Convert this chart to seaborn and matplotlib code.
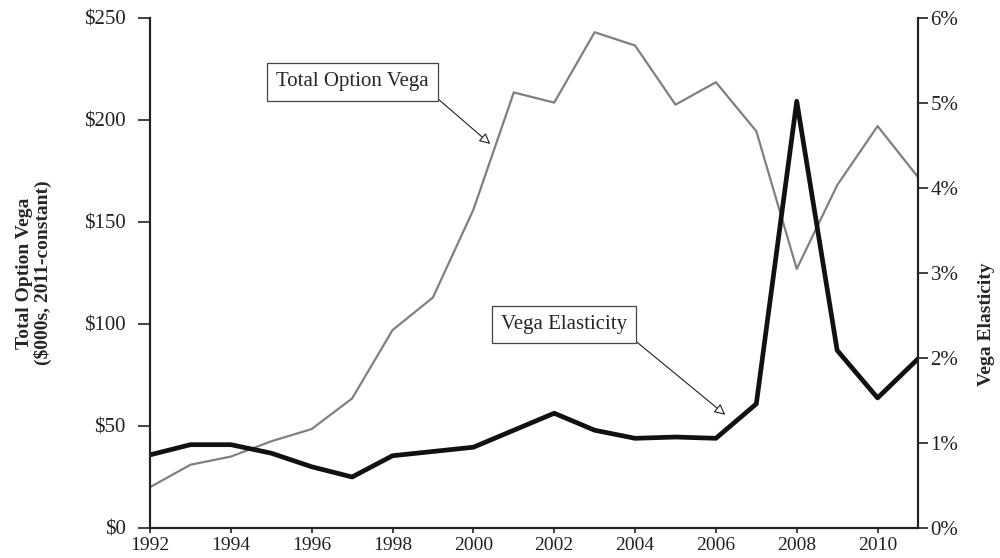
import matplotlib
matplotlib.use("Agg")
import matplotlib.pyplot as plt
import seaborn as sns
import pandas as pd

years = list(range(1992, 2012))
total_option_vega = [20, 31, 35, 42.5, 48.5, 63.5, 97, 113, 156, 213.5,
                     208.5, 243, 236.5, 207.5, 218.5, 194.5, 127, 168, 197, 172]
vega_elasticity = [0.86, 0.98, 0.98, 0.88, 0.72, 0.60, 0.85, 0.90, 0.95, 1.15,
                   1.35, 1.15, 1.055, 1.07, 1.055, 1.46, 5.02, 2.09, 1.53, 1.99]
left_ticks = [0, 50, 100, 150, 200, 250]
right_ticks = [0, 1, 2, 3, 4, 5, 6]
x_ticks = list(range(1992, 2011, 2))

df = pd.DataFrame({"year": years, "vega": total_option_vega, "elasticity": vega_elasticity})

sns.set_style("ticks")
plt.rcParams["font.family"] = ["Liberation Serif", "DejaVu Serif"]
plt.rcParams["font.size"] = 14

fig = plt.figure(figsize=(10, 5.58), dpi=100)
ax = fig.add_axes([0.15, 0.0538, 0.768, 0.914])
ax2 = ax.twinx()

sns.lineplot(data=df, x="year", y="vega", ax=ax, color="#808080", linewidth=1.6)
sns.lineplot(data=df, x="year", y="elasticity", ax=ax2, color="#111111", linewidth=3.4)

ax.set_xlim(1992, 2011)
ax.set_ylim(0, 250)
ax2.set_ylim(0, 6)
ax.set_xticks(x_ticks)
ax.set_xticklabels([str(y) for y in x_ticks], fontsize=14)
ax.set_yticks(left_ticks)
ax.set_yticklabels([f"${v}" for v in left_ticks], fontsize=15)
ax2.set_yticks(right_ticks)
ax2.set_yticklabels([f"{v}%" for v in right_ticks], fontsize=15)

for a in (ax, ax2):
    a.spines["top"].set_visible(False)
    for s in a.spines.values():
        s.set_linewidth(1.5)
        s.set_color("#222222")
ax.tick_params(axis="y", length=8.5, width=1.2, pad=9, colors="#222222")
ax.tick_params(axis="x", length=3.6, width=1.2, pad=3, colors="#222222")
ax2.tick_params(axis="y", length=7, width=1.2, pad=2, colors="#222222")
ax2.tick_params(axis="x", length=0)

ax.set_xlabel("")
ax.set_ylabel("Total Option Vega\n($000s, 2011-constant)", fontsize=14,
              fontweight="bold", linespacing=1.1)
ax.yaxis.set_label_coords(-0.127, 0.5)
ax2.set_ylabel("Vega Elasticity", fontsize=14, fontweight="bold")
ax2.yaxis.set_label_coords(1.078, 0.40)

box = dict(boxstyle="square,pad=0.45", fc="white", ec="#444444", lw=0.9)
arrow = dict(arrowstyle="-|>", fc="white", ec="#222222", lw=0.8,
             mutation_scale=16, relpos=(1, 0), shrinkA=0, shrinkB=0)

ax.annotate("Total Option Vega", xy=(0.443, 0.753), xycoords="axes fraction",
            xytext=(0.264, 0.875), textcoords="axes fraction",
            ha="center", va="center", fontsize=15, bbox=box, arrowprops=arrow,
            zorder=5)
ax2.annotate("Vega Elasticity", xy=(0.749, 0.222), xycoords="axes fraction",
             xytext=(0.539, 0.399), textcoords="axes fraction",
             ha="center", va="center", fontsize=15, bbox=box, arrowprops=arrow,
             zorder=5)

fig.savefig("out.png", dpi=100)
